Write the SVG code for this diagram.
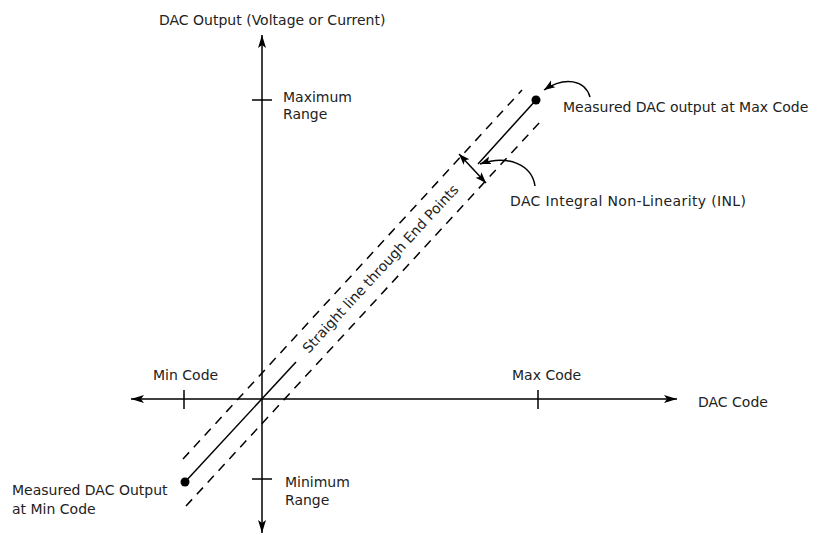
<svg xmlns="http://www.w3.org/2000/svg" width="820" height="535" viewBox="0 0 820 535">
<defs>
<style>
.t{font-family:"DejaVu Sans","Liberation Sans",sans-serif;font-size:14px;fill:#222}
.ln{stroke:#000;stroke-width:1.5;fill:none}
.dash{stroke:#000;stroke-width:1.5;fill:none;stroke-dasharray:9 7}
.tick{stroke:#000;stroke-width:1.5}
</style>
<marker id="ah" viewBox="0 -5 14 10" refX="13" refY="0" markerWidth="14" markerHeight="10" markerUnits="userSpaceOnUse" orient="auto-start-reverse">
<path d="M0,-4 L13,0 L0,4 L3,0 z" fill="#000"/>
</marker>
<marker id="sh" viewBox="0 -5 12 10" refX="11" refY="0" markerWidth="12" markerHeight="10" markerUnits="userSpaceOnUse" orient="auto-start-reverse">
<path d="M0,-4 L11,0 L0,4 L2.5,0 z" fill="#000"/>
</marker>
</defs>
<rect width="820" height="535" fill="#fff"/>
<g id="connectors">
<line class="ln" x1="262" y1="533" x2="262" y2="35" marker-start="url(#ah)" marker-end="url(#ah)"/>
<line class="ln" x1="131" y1="399" x2="677" y2="399" marker-start="url(#ah)" marker-end="url(#ah)"/>
<line class="tick" x1="252" y1="100" x2="272" y2="100"/>
<line class="tick" x1="252" y1="479" x2="272" y2="479"/>
<line class="tick" x1="184" y1="390" x2="184" y2="409"/>
<line class="tick" x1="538" y1="390" x2="538" y2="409"/>
<line class="dash" x1="183" y1="459" x2="522" y2="90"/>
<line class="dash" x1="186" y1="506" x2="540" y2="122"/>
<line class="ln" x1="185" y1="482" x2="296" y2="362"/>
<line class="ln" x1="536" y1="100" x2="478" y2="164"/>
<line class="ln" x1="459" y1="154" x2="486" y2="183" marker-start="url(#sh)" marker-end="url(#sh)"/>
<path class="ln" d="M535,186 C532,165 508,154 480,164" marker-end="url(#sh)"/>
<path class="ln" d="M590,97 C585,80 565,76 544,90" marker-end="url(#sh)"/>
</g>
<g id="dot-max"><circle cx="536" cy="100" r="4.5" fill="#000"/></g>
<g id="dot-min"><circle cx="185" cy="482" r="4.5" fill="#000"/></g>
<g id="y-axis-label"><text class="t" x="159" y="25">DAC Output (Voltage or Current)</text></g>
<g id="max-range"><text class="t" x="283" y="102">Maximum</text><text class="t" x="283" y="119">Range</text></g>
<g id="min-range"><text class="t" x="285" y="487">Minimum</text><text class="t" x="285" y="505">Range</text></g>
<g id="min-code"><text class="t" x="153" y="380">Min Code</text></g>
<g id="max-code"><text class="t" x="512" y="380">Max Code</text></g>
<g id="x-axis-label"><text class="t" x="698" y="407">DAC Code</text></g>
<g id="label-max"><text class="t" x="563" y="112">Measured DAC output at Max Code</text></g>
<g id="label-inl"><text class="t" x="510" y="206" textLength="236" lengthAdjust="spacing">DAC Integral Non-Linearity (INL)</text></g>
<g id="label-min"><text class="t" x="12" y="495">Measured DAC Output</text><text class="t" x="12" y="514">at Min Code</text></g>
<g id="label-line"><text class="t" x="384" y="272" text-anchor="middle" transform="rotate(-47.4 384 272)">Straight line through End Points</text></g>
</svg>
